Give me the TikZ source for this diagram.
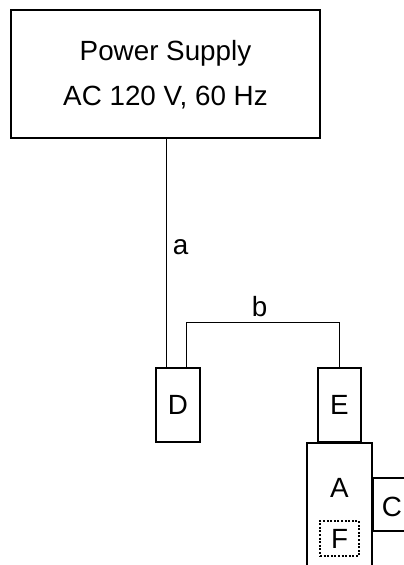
\documentclass[tikz,border=0pt]{standalone}
\usepackage{fontspec}
\setmainfont{Liberation Sans}
\usetikzlibrary{positioning, calc}
\begin{document}
\begin{tikzpicture}[x=1pt, y=-1pt,
  font=\fontsize{27.8}{45}\selectfont,
  box/.style={draw, line width=2pt, inner sep=0pt},
  wire/.style={line width=1pt}]
  \useasboundingbox (0,0) rectangle (404,565);
  \clip (0,0) rectangle (404,565);
  \node[draw, line width=1.3pt, minimum width=309pt, minimum height=128pt, inner sep=0pt] (supply) at (165.5,74)
    {\raisebox{-2.5pt}{\begin{tabular}{@{}c@{}}Power Supply\\AC 120 V, 60 Hz\end{tabular}}};
  \node[box, minimum width=44pt, minimum height=74pt] (D) at (178,405) {D};
  \node[box, minimum width=43pt, minimum height=74pt] (E) at (339.5,405) {E};
  \node[box, minimum width=65pt, minimum height=160pt, anchor=north] (A) at (339.5,442) {};
  \node (Alabel) at (339.5,488) {A};
  \node[box, minimum width=70pt, minimum height=53pt, anchor=north west] (C) at (372,477) {};
  \node (Clabel) at (392,507) {C};
  \node[box, dash pattern=on 2pt off 1.6pt, minimum width=39pt, minimum height=35pt] (F) at (339.5,538.5) {F};
  \coordinate (aend) at ($(D.north)+(-12,0)$);
  \coordinate (bend) at ($(D.north)+(8,0)$);
  \coordinate (bjoin) at (0,322);
  \draw[wire] (aend) -- (aend |- supply.south);
  \draw[wire] (bend) |- (bjoin -| E.north) -- (E.north);
  \node (alabel) at (180.5,247) {a};
  \node (blabel) at (259.5,307) {b};
\end{tikzpicture}
\end{document}
